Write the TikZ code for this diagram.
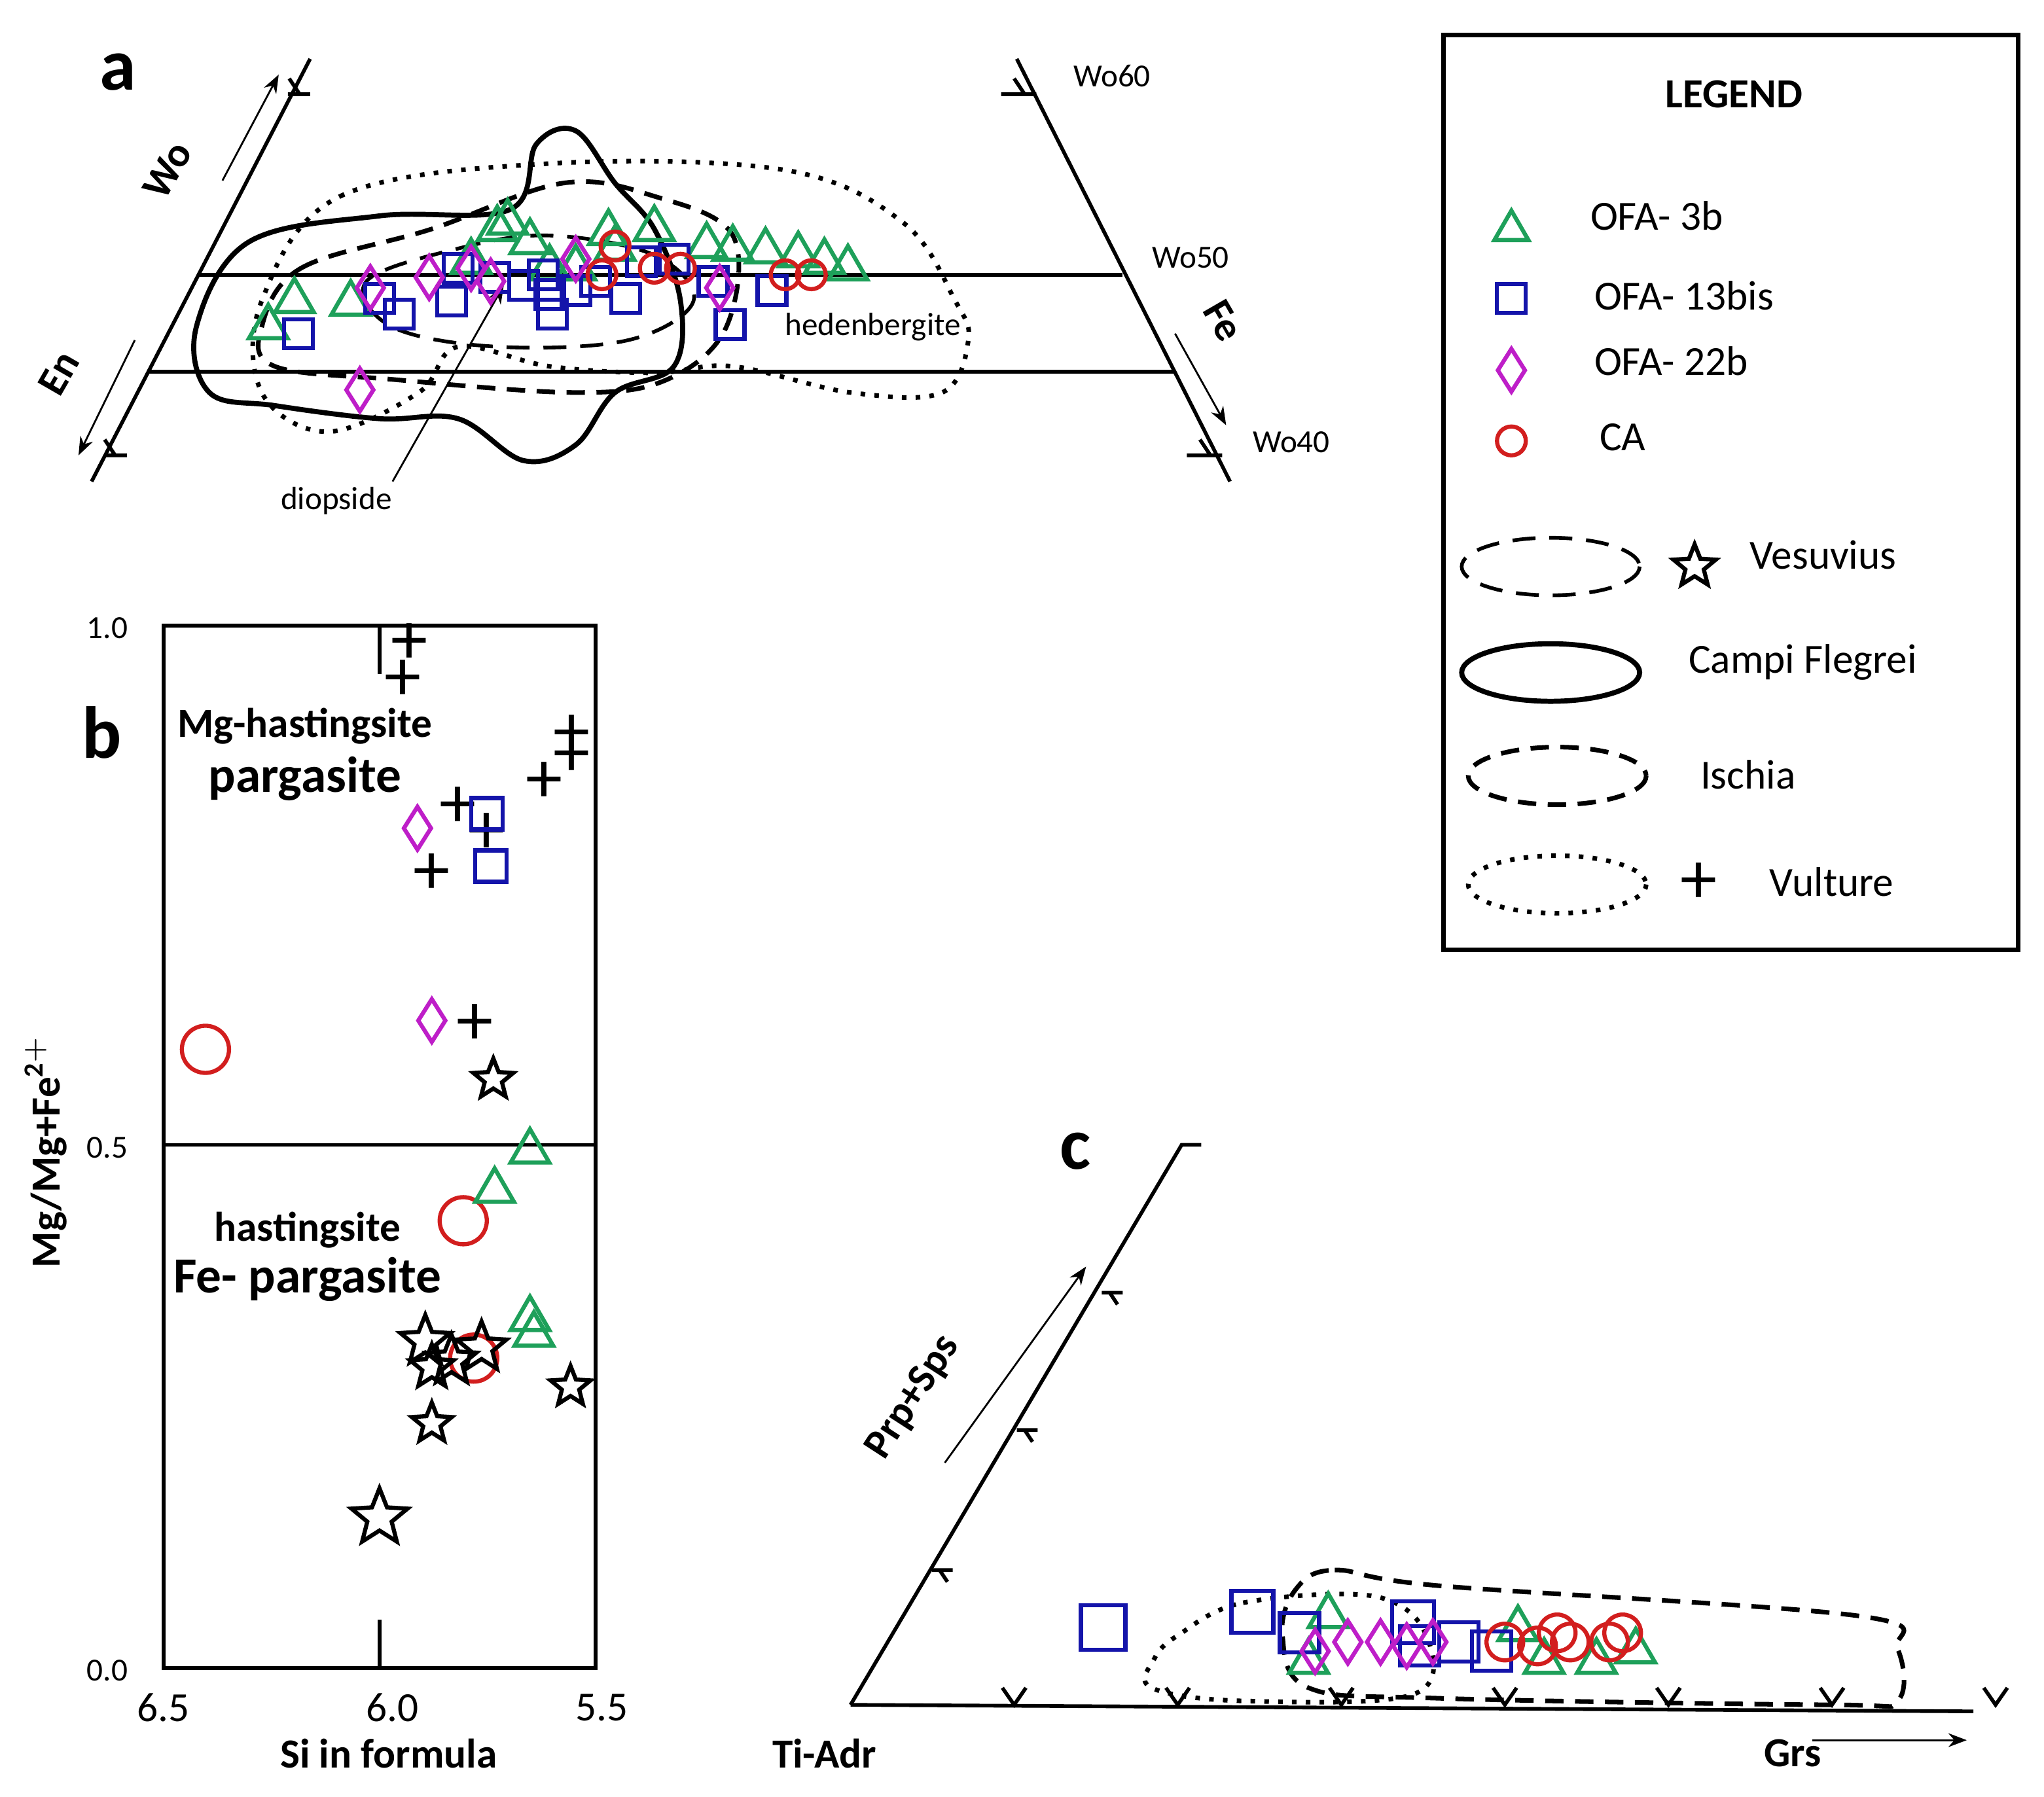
\documentclass[tikz,border=0pt]{standalone}
\usepackage{fontspec}
\setmainfont{Carlito}
\usetikzlibrary{shapes.geometric,arrows.meta}
\definecolor{tgreen}{RGB}{30,160,90}
\definecolor{sblue}{RGB}{20,20,170}
\definecolor{dmag}{RGB}{190,30,200}
\definecolor{cred}{RGB}{210,30,30}
\tikzset{
 tri/.style={draw=tgreen,line width=0.9pt,regular polygon,regular polygon sides=3,minimum size=3.4mm,inner sep=0pt},
 sq/.style={draw=sblue,line width=0.9pt,rectangle,minimum size=2.2mm,inner sep=0pt},
 dia/.style={draw=dmag,line width=0.9pt,diamond,minimum width=2.2mm,minimum height=3.4mm,inner sep=0pt},
 cir/.style={draw=cred,line width=0.9pt,circle,minimum size=2.2mm,inner sep=0pt},
 st/.style={draw=black,line width=0.9pt,star,star points=5,star point ratio=2.3,minimum size=3.6mm,inner sep=0pt},
 pl/.style={inner sep=0pt,font=\fontsize{16}{16}\selectfont},
 ax/.style={line width=0.8pt},
 lab/.style={font=\fontsize{7}{8}\selectfont},
 big/.style={font=\fontsize{9}{11}\selectfont},
 bl/.style={font=\bfseries\fontsize{9}{11}\selectfont},
 vesu/.style={line width=0.8pt,dash pattern=on 5pt off 3pt},
 camp/.style={line width=1.1pt},
 isch/.style={line width=1pt,dash pattern=on 4pt off 2.5pt},
 vult/.style={line width=1pt,dotted},
}
\begin{document}
\begin{tikzpicture}[x=0.01cm,y=-0.01cm]
\useasboundingbox (0,0) rectangle (1562,1373);
% ---------- panel a
\coordinate (aL1) at (70,368); \coordinate (aL2) at (237,45);
\coordinate (aR1) at (777,45); \coordinate (aR2) at (940,368);
\draw[ax] (aL1) -- (aL2); \draw[ax] (aR1) -- (aR2);
\draw[ax] (152,210) -- (858,210); \draw[ax] (113,284) -- (897,284);
\draw[ax] (220,72) -- (237,72) (229,72) -- (221,60);
\draw[ax] (80,348) -- (97,348) (88,348) -- (80,336);
\draw[ax] (765,72) -- (792,72) (783,72) -- (775,60);
\draw[ax] (907,348) -- (934,348) (925,348) -- (917,336);
\node[lab,anchor=west] (wo60) at (808,58) {Wo60};
\node[lab,anchor=west] (wo50) at (868,197) {Wo50};
\node[lab,anchor=west] (wo40) at (945,338) {Wo40};
\node[bl,rotate=60] (wo) at (128,130) {Wo};
\node[bl,rotate=60] (en) at (45,285) {En};
\node[bl,rotate=-60] (fe) at (935,245) {Fe};
\draw[-{Stealth[length=4pt]},line width=0.4pt] (170,138) -- (213,57);
\draw[-{Stealth[length=4pt]},line width=0.4pt] (103,260) -- (60,348);
\draw[-{Stealth[length=4pt]},line width=0.4pt] (898,255) -- (937,325);
\node[font=\bfseries\fontsize{16}{16}\selectfont] (la) at (90,55) {a};
\node[lab] (diop) at (257,383) {diopside};
\coordinate (diopT) at (385,218);
\draw[-{Stealth[length=4pt]},line width=0.4pt] (300,368) -- (diopT);
\node[lab] (hed) at (667,250) {hedenbergite};
\draw[camp] plot[smooth cycle,tension=0.6] coordinates {(150,250)(190,185)(290,165)(390,160)(410,110)(440,100)(470,140)(500,175)(520,230)(515,280)(470,300)(440,340)(400,352)(350,320)(290,320)(210,310)(160,300)};
\draw[isch] plot[smooth cycle,tension=0.6] coordinates {(200,250)(230,205)(330,175)(430,140)(500,150)(560,180)(555,250)(510,290)(440,300)(300,290)(210,280)};
\draw[vesu] plot[smooth cycle,tension=0.6] coordinates {(280,215)(350,190)(420,180)(500,195)(530,230)(480,260)(380,265)(300,250)};
\draw[vult] plot[smooth cycle,tension=0.6] coordinates {(200,230)(260,150)(420,125)(600,130)(690,170)(730,230)(740,260)(720,300)(650,300)(560,280)(500,285)(420,280)(350,265)(320,300)(250,330)(200,300)};
\foreach \x/\y [count=\i] in {205/250,225/230,268/232,380/175,388/170,405/185,440/205,465/178,500/175,470/190,540/188,560/190,585/192,610/195,630/200,648/205,420/205,360/200}
  \node[tri] (at\i) at (\x,\y) {};
\foreach \x/\y [count=\i] in {228/255,290/228,305/240,345/230,350/205,378/212,400/218,415/210,422/240,455/215,478/228,490/200,515/198,545/215,558/248,590/222,420/225,440/222}
  \node[sq] (as\i) at (\x,\y) {};
\foreach \x/\y [count=\i] in {283/220,328/212,360/205,375/215,440/198,550/220,275/298}
  \node[dia] (ad\i) at (\x,\y) {};
\foreach \x/\y [count=\i] in {460/210,470/188,500/205,520/205,600/210,620/210}
  \node[cir] (ac\i) at (\x,\y) {};
% ---------- panel b
\draw[ax] (125,478) rectangle (455,1275);
\draw[ax] (125,875) -- (455,875);
\draw[ax] (290,478) -- (290,515); \draw[ax] (290,1238) -- (290,1275);
\node[lab,anchor=east] (b10) at (110,480) {1.0};
\node[lab,anchor=east] (b05) at (110,877) {0.5};
\node[lab,anchor=east] (b00) at (110,1277) {0.0};
\node[big] (x65) at (125,1305) {6.5};
\node[big] (x60) at (300,1305) {6.0};
\node[big] (x55) at (460,1305) {5.5};
\node[bl] (mgh) at (233,555) {Mg-hastingsite};
\node[font=\bfseries\fontsize{11}{13}\selectfont] (parg) at (233,595) {pargasite};
\node[bl] (hast) at (235,940) {hastingsite};
\node[font=\bfseries\fontsize{11}{13}\selectfont] (fep) at (235,978) {Fe- pargasite};
\node[bl,rotate=90] (yl) at (35,880) {Mg/Mg+Fe$^{\mathbf{2+}}$};
\node[bl] (xl) at (297,1340) {Si in formula};
\node[font=\bfseries\fontsize{16}{16}\selectfont] (lb) at (78,560) {b};
\foreach \x/\y [count=\i] in {313/492,308/520,437/562,437/578,416/598,350/617,372/637,330/668,363/783}
  \node[pl] (bp\i) at (\x,\y) {+};
\foreach \x/\y [count=\i] in {372/622,375/662}
  \node[sq,minimum size=2.4mm] (bs\i) at (\x,\y) {};
\foreach \x/\y [count=\i] in {319/633,330/780}
  \node[dia] (bd\i) at (\x,\y) {};
\foreach \x/\y [count=\i] in {157/802,354/933,362/1038}
  \node[cir,minimum size=3.6mm] (bc\i) at (\x,\y) {};
\foreach \x/\y [count=\i] in {405/880,378/910,405/1008,408/1020}
  \node[tri] (bt\i) at (\x,\y) {};
\foreach \x/\y/\s [count=\i] in {377/825/3.2,290/1160/4.5,330/1088/3.2,436/1060/3.2,325/1025/4,345/1040/4,368/1030/4,330/1045/3.5}
  \node[st,minimum size=\s mm] (bst\i) at (\x,\y) {};
% ---------- panel c
\coordinate (cO) at (650,1303); \coordinate (cT) at (903,875); \coordinate (cE) at (1508,1308);
\draw[ax] (cO) -- (cT) -- (918,875);
\draw[ax] (cO) -- (cE);
\foreach \x/\y in {848/985,783/1090,718/1197}
  \draw[ax] (\x-6,\y+3) -- (\x+10,\y+3) (\x,\y+3) -- (\x+6,\y+12);
\foreach \x in {775,900,1025,1150,1275,1400,1525}
  \draw[ax] (\x-9,1290) -- (\x,1303) -- (\x+9,1290);
\draw[-{Stealth[length=4pt]},line width=0.4pt] (722,1118) -- (830,968);
\node[bl,rotate=57] (prp) at (698,1068) {Prp+Sps};
\node[bl] (tiadr) at (630,1340) {Ti-Adr};
\node[bl] (grs) at (1370,1340) {Grs};
\draw[-{Stealth[length=4pt]},line width=0.4pt] (1385,1330) -- (1503,1330);
\node[font=\bfseries\fontsize{16}{16}\selectfont] (lc) at (822,880) {c};
\draw[isch] plot[smooth cycle,tension=0.6] coordinates {(990,1215)(1020,1200)(1100,1212)(1420,1235)(1450,1260)(1450,1300)(1400,1303)(1100,1298)(1000,1290)(980,1250)};
\draw[vult] plot[smooth cycle,tension=0.6] coordinates {(900,1250)(950,1225)(1050,1220)(1090,1250)(1080,1295)(950,1300)(880,1290)(882,1268)};
\foreach \x/\y [count=\i] in {1000/1270,1015/1235,1160/1245,1180/1270,1220/1270,1250/1262}
  \node[tri] (ct\i) at (\x,\y) {};
\foreach \x/\y/\s [count=\i] in {843/1244/3.4,957/1232/3.2,993/1248/3,1080/1240/3.2,1085/1258/3,1115/1255/3,1140/1262/3}
  \node[sq,minimum size=\s mm] (cs\i) at (\x,\y) {};
\foreach \x/\y [count=\i] in {1005/1262,1030/1255,1055/1255,1075/1258,1095/1255}
  \node[dia] (cd\i) at (\x,\y) {};
\foreach \x/\y [count=\i] in {1150/1255,1190/1248,1200/1255,1230/1255,1240/1248,1175/1258}
  \node[cir,minimum size=2.8mm] (cc\i) at (\x,\y) {};
% ---------- legend
\draw[line width=1pt] (1103,27) rectangle (1542,726);
\node[bl] (leg) at (1325,72) {LEGEND};
\node[tri,minimum size=3mm] (lt) at (1155,176) {};
\node[big,anchor=west] (ltt) at (1203,165) {OFA- 3b};
\node[sq] (ls) at (1155,228) {};
\node[big,anchor=west] (lst) at (1206,226) {OFA- 13bis};
\node[dia] (ld) at (1155,283) {};
\node[big,anchor=west] (ldt) at (1206,276) {OFA- 22b};
\node[cir] (lc2) at (1155,337) {};
\node[big,anchor=west] (lct) at (1210,334) {CA};
\draw[vesu] (1185,433) ellipse (68 and 22);
\node[st,minimum size=3.4mm] (lvs) at (1295,433) {};
\node[big,anchor=west] (lvst) at (1325,424) {Vesuvius};
\draw[camp] (1185,514) ellipse (68 and 22);
\node[big,anchor=west] (lcft) at (1278,506) {Campi Flegrei};
\draw[isch] (1190,593) ellipse (68 and 22);
\node[big,anchor=west] (lit) at (1287,592) {Ischia};
\draw[vult] (1190,676) ellipse (68 and 22);
\node[pl] (lvp) at (1298,675) {+};
\node[big,anchor=west] (lvut) at (1340,674) {Vulture};
\end{tikzpicture}
\end{document}
